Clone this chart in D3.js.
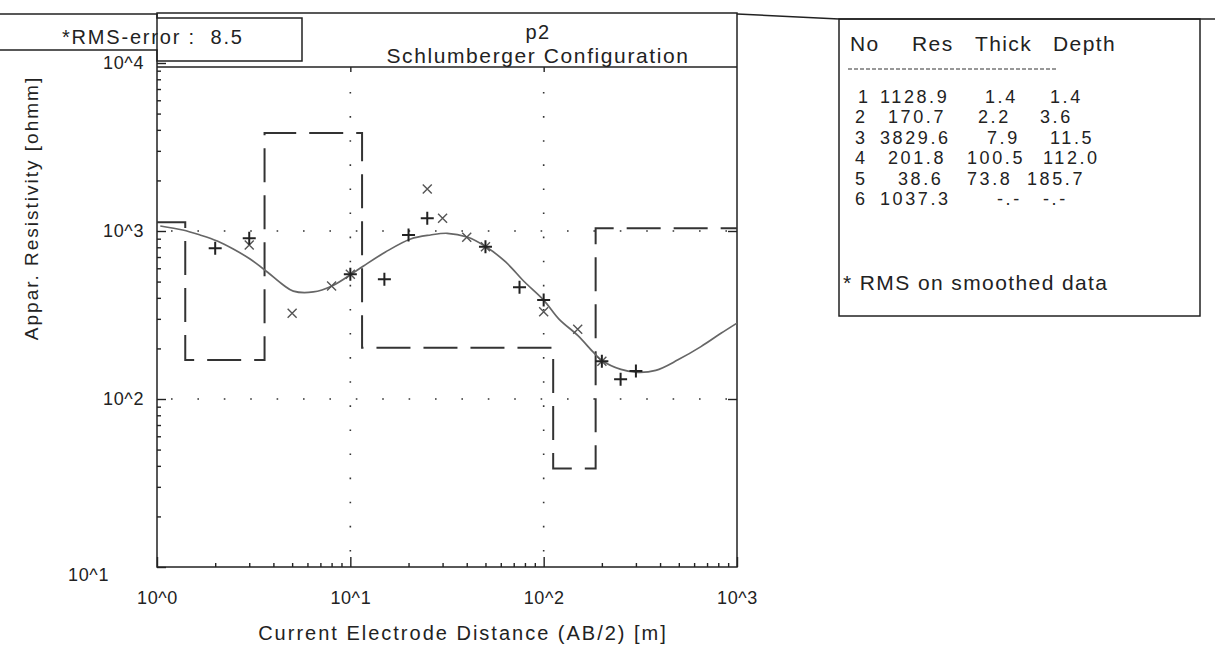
<!DOCTYPE html>
<html>
<head>
<meta charset="utf-8">
<script src="https://cdn.jsdelivr.net/npm/d3@7"></script>
<style>
    body { margin: 0; background: #fff; }
    svg { font-family: "Liberation Sans", Arial, sans-serif; fill: #222; }
</style>
</head>
<body>
<svg id="chart" width="1215" height="648"></svg>
<script>
// dati (sondaggio p2)
const abField = [2, 3, 10, 15, 20, 25, 50, 75, 100, 200, 250, 300];
const rhoField = [789, 905, 552, 516, 947, 1190, 806, 462, 388, 168, 131, 147];
const abSmooth = [3, 5, 8, 10, 25, 30, 40, 50, 100, 150, 200];
const rhoSmooth = [825, 324, 471, 552, 1778, 1190, 917, 806, 331, 260, 168];

// curva del modello (letta punto per punto)
const curveAB = [1.04, 1.36, 1.67, 2.05, 2.48, 3.03, 3.72, 4.5, 5.07, 6.43, 8.04, 10.2, 11.7, 15.2,
    20.5, 26.0, 31.7, 40.2, 50.3, 63.6, 79.7, 100, 120, 150, 182, 201, 251, 306, 380, 495, 651, 826, 1000];
const curveRho = [1071, 1014, 947, 872, 781, 681, 570, 477, 439, 434, 471, 557, 619, 750,
    896, 947, 969, 921, 806, 654, 497, 388, 299, 239, 188, 169, 150, 144, 148, 171, 205, 246, 283];

// strati del modello
const layerNo = [1, 2, 3, 4, 5, 6];
const layerRes = [1128.9, 170.7, 3829.6, 201.8, 38.6, 1037.3];
const layerThick = [1.4, 2.2, 7.9, 100.5, 73.8, null];
const layerDepth = [1.4, 3.6, 11.5, 112.0, 185.7, null];

const xTicks = [1, 10, 100, 1000];
const yTicks = [10, 100, 1000, 10000];
const rmsError = 8.5;
const title = 'p2';
const subtitle = 'Schlumberger Configuration';

// posizioni delle celle della tabella (come nel tabulato originale)
const cellX = [
    [858, 880, 985, 1050],
    [855, 888, 978, 1040],
    [855, 880, 987, 1050],
    [855, 888, 967, 1043],
    [855, 898, 967, 1027],
    [855, 880, 997, 1043]
];

const svg = d3.select('#chart');
const L = 157, R = 737, T = 67, B = 567;

const x = d3.scaleLog().domain([1, 1000]).range([L, R]);
const y = d3.scaleLog().domain([10, 10000]).range([B, 63]);

const pow = d => '10^' + Math.round(Math.log10(d));

// valori per le tacche minori
const minorX = [], minorY = [];
[1, 10, 100].forEach(b => d3.range(2, 10).forEach(k => minorX.push(b * k)));
[10, 100, 1000].forEach(b => d3.range(2, 10).forEach(k => minorY.push(b * k)));

// cornici
svg.append('path')
    .attr('d', `M0,14H${L}V18H302V61H${L}V50H0`)
    .attr('fill', 'none').attr('stroke', '#222').attr('stroke-width', 1.5);
svg.append('rect')
    .attr('x', L).attr('y', 13).attr('width', R - L).attr('height', B - 13)
    .attr('fill', 'none').attr('stroke', '#222').attr('stroke-width', 1.5);
svg.append('line')
    .attr('x1', L).attr('x2', R).attr('y1', T).attr('y2', T)
    .attr('stroke', '#222').attr('stroke-width', 1.5);
svg.append('path')
    .attr('d', `M${R},14L839,19H1215`)
    .attr('fill', 'none').attr('stroke', '#222').attr('stroke-width', 1.5);

svg.append('text')
    .attr('x', 62).attr('y', 44)
    .style('font-size', '20px').style('letter-spacing', '1.8px')
    .style('white-space', 'pre')
    .text(`*RMS-error :  ${rmsError}`);

svg.append('text')
    .attr('x', 538).attr('y', 39).attr('text-anchor', 'middle')
    .style('font-size', '20px').style('letter-spacing', '1.5px')
    .text(title);
svg.append('text')
    .attr('x', 538).attr('y', 63).attr('text-anchor', 'middle')
    .style('font-size', '21px').style('letter-spacing', '1.6px')
    .text(subtitle);

// griglia puntinata
const grid = svg.append('g').attr('stroke', '#333').attr('stroke-width', 1.6);
[100, 1000].forEach(v => grid.append('line')
    .attr('x1', L + 14).attr('x2', R).attr('y1', y(v)).attr('y2', y(v))
    .attr('stroke-dasharray', '1.6,24.8'));
[10, 100].forEach(v => grid.append('line')
    .attr('x1', x(v)).attr('x2', x(v)).attr('y1', T + 25).attr('y2', B)
    .attr('stroke-dasharray', '1.6,22.5'));

// assi
function styleAxis(g) {
    g.select('.domain').remove();
    g.selectAll('.tick line').attr('stroke', '#222').attr('stroke-width', 1.4);
    g.selectAll('.tick text').attr('fill', '#222')
        .style('font-size', '18px').style('font-family', '"Liberation Sans", Arial, sans-serif')
        .style('letter-spacing', '0.6px');
}

const yAxisG = svg.append('g').attr('transform', `translate(${L},0)`)
    .call(d3.axisLeft(y).tickValues(yTicks).tickSize(-9).tickPadding(13).tickFormat(pow))
    .call(styleAxis);
// l'etichetta più bassa nell'originale è spostata in basso a sinistra
yAxisG.selectAll('.tick').filter(d => d === 10).select('text')
    .attr('x', -48).attr('dy', '0.75em');

svg.append('g').attr('transform', `translate(${L},0)`)
    .call(d3.axisLeft(y).tickValues(minorY).tickSize(-4).tickFormat(''))
    .call(styleAxis);
svg.append('g').attr('transform', `translate(0,${B})`)
    .call(d3.axisBottom(x).tickValues(xTicks).tickSize(-10).tickPadding(24).tickFormat(pow))
    .call(styleAxis);
svg.append('g').attr('transform', `translate(0,${B})`)
    .call(d3.axisBottom(x).tickValues(minorX).tickSize(-4).tickFormat(''))
    .call(styleAxis);
svg.append('g').attr('transform', `translate(0,${T})`)
    .call(d3.axisTop(x).tickValues([10, 100]).tickSize(-5).tickFormat(''))
    .call(styleAxis);
svg.append('g').attr('transform', `translate(${R},0)`)
    .call(d3.axisRight(y).tickValues([100, 1000]).tickSize(-9).tickFormat(''))
    .call(styleAxis);

// etichette degli assi
svg.append('text')
    .attr('x', 463).attr('y', 640).attr('text-anchor', 'middle')
    .style('font-size', '20px').style('letter-spacing', '2px')
    .text('Current Electrode Distance (AB/2) [m]');
svg.append('text')
    .attr('transform', 'translate(38,208) rotate(-90)')
    .attr('text-anchor', 'middle')
    .style('font-size', '19px').style('letter-spacing', '2px')
    .text('Appar. Resistivity [ohmm]');

// modello a strati (linea tratteggiata a gradini)
const steps = [[1, layerRes[0]]];
layerDepth.forEach((d, i) => { if (d !== null) steps.push([d, layerRes[i + 1]]); });
steps.push([1000, layerRes[layerRes.length - 1]]);

svg.append('path')
    .datum(steps)
    .attr('fill', 'none').attr('stroke', '#333').attr('stroke-width', 2)
    .attr('stroke-dasharray', '34,13')
    .attr('d', d3.line().x(d => x(d[0])).y(d => y(d[1])).curve(d3.curveStepAfter));

// curva calcolata
svg.append('path')
    .datum(curveAB.map((a, i) => [a, curveRho[i]]))
    .attr('fill', 'none').attr('stroke', '#666').attr('stroke-width', 1.7)
    .attr('d', d3.line().x(d => x(d[0])).y(d => y(d[1])).curve(d3.curveCatmullRom));

// dati smussati (x) e dati di campagna (+)
svg.append('g').selectAll('path')
    .data(abSmooth.map((a, i) => [a, rhoSmooth[i]]))
    .join('path')
    .attr('transform', d => `translate(${x(d[0])},${y(d[1])})`)
    .attr('d', 'M-4.5,-4.5L4.5,4.5M-4.5,4.5L4.5,-4.5')
    .attr('stroke', '#555').attr('stroke-width', 1.4);

svg.append('g').selectAll('path')
    .data(abField.map((a, i) => [a, rhoField[i]]))
    .join('path')
    .attr('transform', d => `translate(${x(d[0])},${y(d[1])})`)
    .attr('d', 'M-6.5,0H6.5M0,-6.5V6.5')
    .attr('stroke', '#222').attr('stroke-width', 2);

// tabella degli strati
svg.append('rect')
    .attr('x', 839).attr('y', 19).attr('width', 361).attr('height', 297)
    .attr('fill', 'none').attr('stroke', '#222').attr('stroke-width', 1.5);

const table = svg.append('g').style('font-size', '21px').style('letter-spacing', '1.4px');
[['No', 850], ['Res', 912], ['Thick', 975], ['Depth', 1053]].forEach(h =>
    table.append('text').attr('x', h[1]).attr('y', 51).text(h[0]));
table.append('line')
    .attr('x1', 848).attr('x2', 1058).attr('y1', 69).attr('y2', 69)
    .attr('stroke', '#333').attr('stroke-width', 1.2).attr('stroke-dasharray', '4,2');

// righe più piccole per non sovrapporsi (passo di 20 px)
const fmt = v => v === null ? '-.-' : v.toFixed(1);
layerNo.forEach((n, i) => {
    const cells = [String(n), fmt(layerRes[i]), fmt(layerThick[i]), fmt(layerDepth[i])];
    cells.forEach((c, j) => table.append('text')
        .style('font-size', '18px').style('letter-spacing', '2.6px')
        .attr('x', cellX[i][j]).attr('y', 103 + i * 20.4).text(c));
});
table.append('text').attr('x', 843).attr('y', 290).text('* RMS on smoothed data');
</script>
</body>
</html>
